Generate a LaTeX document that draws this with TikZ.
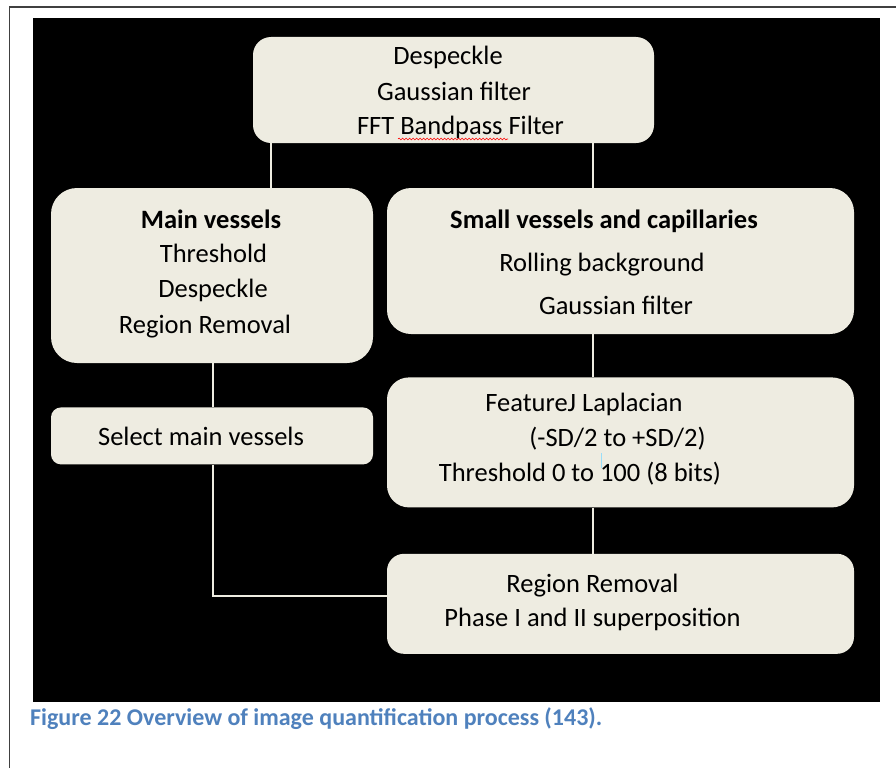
\documentclass[tikz,border=0pt]{standalone}
\usepackage{fontspec}
\setmainfont{Carlito}
\usetikzlibrary{positioning,decorations.pathmorphing}
\definecolor{boxfill}{HTML}{EEECE1}
\definecolor{capblue}{HTML}{4F81BD}
\tikzset{
  procbox/.style={rectangle, fill=boxfill, inner sep=0pt, minimum width=#1},
  steptext/.style={anchor=base, inner sep=0pt, font=\fontsize{26.5}{32}\selectfont, text=black},
  link/.style={draw=boxfill, line width=2pt},
}
\begin{document}
\begin{tikzpicture}[x=1pt, y=-1pt]
   \useasboundingbox (0,0) rectangle (896,768);
   \fill[white] (0,0) rectangle (896,768);
   \draw[black!75, line width=1.5pt] (9.5,768) -- (9.5,7) -- (896,7);
   \fill[black] (33,18) rectangle (880,702);

   % boxes
   \node[procbox=401pt, minimum height=106pt, rounded corners=18pt] (prep) at (453.5,90) {};
   \node[procbox=322pt, minimum height=175pt, rounded corners=26pt] (main) at (212,275.5) {};
   \node[procbox=467pt, minimum height=146pt, rounded corners=24pt] (small) at (620.5,261) {};
   \node[procbox=322pt, minimum height=57pt, rounded corners=10pt, below=44pt of main] (select) {};
   \node[procbox=467pt, minimum height=130pt, rounded corners=22pt, below=43pt of small] (featj) {};
   \node[procbox=467pt, minimum height=100pt, rounded corners=17pt, below=46pt of featj] (merge) {};

   % texts
   \node[steptext] (prep1) at (448,64) {Despeckle};
   \node[steptext] (prep2) at (454,100) {Gaussian filter};
   \node[steptext] (prep3) at (460.5,134) {FFT Bandpass Filter};
   \node[steptext, font=\fontsize{26.5}{32}\selectfont\bfseries] (main1) at (211,228) {Main vessels};
   \node[steptext] (main2) at (213.5,262) {Threshold};
   \node[steptext] (main3) at (213,297) {Despeckle};
   \node[steptext] (main4) at (205,333) {Region Removal};
   \node[steptext, font=\fontsize{26.5}{32}\selectfont\bfseries] (small1) at (604,228) {Small vessels and capillaries};
   \node[steptext] (small2) at (602,271) {Rolling background};
   \node[steptext] (small3) at (616,314) {Gaussian filter};
   \node[steptext] (featj1) at (584,411) {FeatureJ Laplacian};
   \node[steptext] (featj2) at (617.5,446) {(-SD/2 to +SD/2)};
   \node[steptext] (featj3) at (580,481) {Threshold 0 to 100 (8 bits)};
   \node[steptext] (select1) at (201,445) {Select main vessels};
   \node[steptext] (merge1) at (592.5,592) {Region Removal};
   \node[steptext] (merge2) at (592.5,626) {Phase I and II superposition};
   \node[anchor=base west, inner sep=0pt, font=\fontsize{24}{28}\selectfont\bfseries, text=capblue] (caption) at (30,725)
      {Figure 22 Overview of image quantification process (143).};

   % spell check and cursor marks
   \draw[red, line width=0.6pt, decorate, decoration={snake, amplitude=0.9pt, segment length=3.5pt}] (398,139) -- (508,139);
   \draw[cyan!40, line width=1pt] (601,453) -- (601,468);

   % connectors
   \coordinate (tapL) at (271,0);
   \coordinate (tapR) at (593,0);
   \coordinate (tapM) at (213,0);
   \draw[link] (prep.south -| tapL) -- (main.north -| tapL);
   \draw[link] (prep.south -| tapR) -- (small.north -| tapR);
   \draw[link] (main.south -| tapM) -- (select.north -| tapM);
   \draw[link] (small.south -| tapR) -- (featj.north -| tapR);
   \draw[link] (featj.south -| tapR) -- (merge.north -| tapR);
   \draw[link] (select.south -| tapM) |- (merge.west |- 0,596);
\end{tikzpicture}
\end{document}
